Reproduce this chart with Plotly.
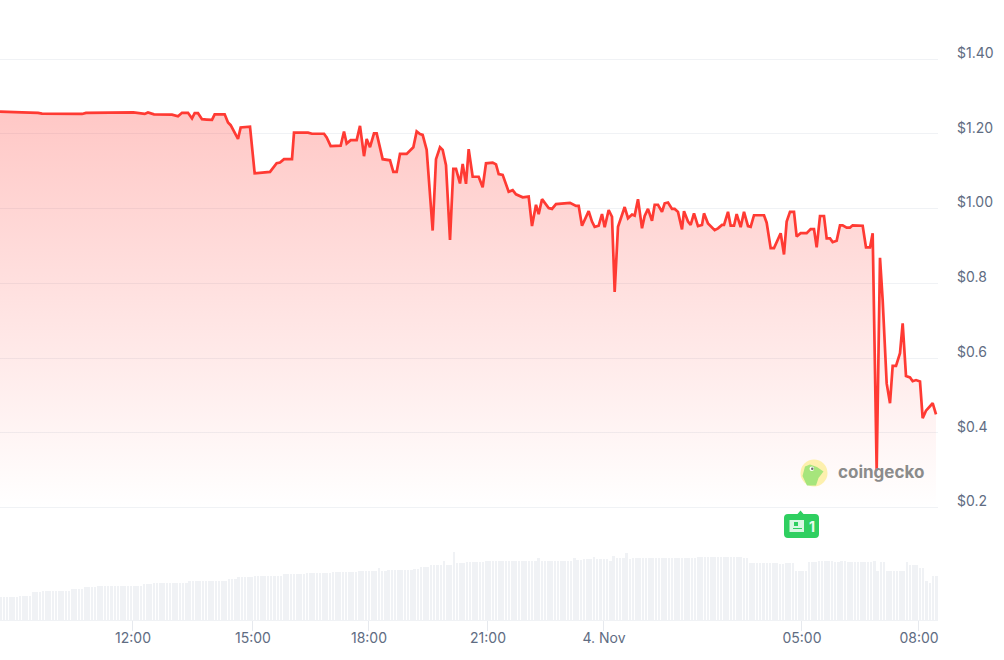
import plotly.graph_objects as go

# Time positions are minutes along the chart's ordinal time axis
price_t = [0,27,33,57,63,123,129,200,207,217,
 222,231,258,267,273,282,288,292,297,303,
 310,318,322,337,342,346,357,361,375,382,
 405,415,420,426,438,441,462,468,486,490,
 496,511,516,520,526,535,540,546,550,555,
 561,565,574,585,590,595,600,610,620,625,
 630,634,640,649,654,660,664,669,675,680,
 684,690,694,699,703,709,718,724,729,739,
 744,748,754,760,763,769,774,784,793,798,
 804,808,813,823,828,834,855,864,868,873,
 879,883,888,892,898,903,907,913,918,922,
 927,933,937,942,948,952,957,963,967,972,
 978,982,987,993,997,1002,1008,1012,1017,1023,
 1026,1032,1036,1041,1047,1053,1056,1062,1068,1072,
 1077,1083,1086,1092,1096,1101,1105,1111,1116,1122,
 1126,1131,1146,1150,1156,1161,1171,1176,1180,1185,
 1191,1195,1201,1210,1216,1221,1225,1230,1236,1240,
 1245,1249,1255,1260,1264,1270,1275,1279,1294,1299,
 1305,1309,1315,1320,1324,1330,1335,1339,1344,1350,
 1354,1359,1365,1369,1374,1380,1384,1389,1399,1404]
price_v = [1.259,1.259,1.257,1.256,1.254,1.253,1.256,1.257,1.255,1.253,
 1.257,1.252,1.251,1.247,1.256,1.256,1.241,1.255,1.255,1.239,
 1.238,1.237,1.252,1.252,1.230,1.223,1.186,1.217,1.219,1.094,
 1.098,1.121,1.123,1.132,1.132,1.203,1.203,1.200,1.200,1.190,
 1.167,1.168,1.206,1.174,1.183,1.183,1.221,1.140,1.186,1.164,
 1.201,1.201,1.132,1.129,1.098,1.098,1.146,1.146,1.164,1.206,
 1.199,1.197,1.157,0.941,1.132,1.164,1.157,1.116,0.916,1.106,
 1.106,1.067,1.119,1.066,1.159,1.085,1.085,1.057,1.121,1.123,
 1.118,1.092,1.090,1.058,1.045,1.049,1.038,1.030,1.032,0.953,
 1.010,0.985,1.025,1.001,0.999,1.012,1.015,1.007,1.007,0.954,
 0.980,0.993,0.965,0.951,0.954,0.985,0.950,0.996,0.978,0.777,
 0.951,0.985,1.004,0.974,0.984,0.981,1.025,0.947,0.980,0.999,
 0.967,1.010,1.010,0.991,1.014,1.016,0.999,0.999,0.991,0.944,
 0.993,0.965,0.956,0.987,0.953,0.956,0.987,0.960,0.949,0.942,
 0.947,0.956,0.956,0.991,0.954,0.954,0.985,0.950,0.991,0.953,
 0.951,0.982,0.982,0.962,0.894,0.894,0.934,0.877,0.965,0.991,
 0.991,0.925,0.934,0.934,0.945,0.945,0.896,0.980,0.980,0.920,
 0.920,0.910,0.914,0.955,0.955,0.949,0.949,0.955,0.954,0.896,
 0.896,0.934,0.300,0.868,0.755,0.532,0.479,0.579,0.579,0.613,
 0.693,0.552,0.548,0.538,0.541,0.537,0.439,0.459,0.479,0.449]

volume = [23,23,23,23,23,23,24,24,24,24,28,28,28,29,29,29,29,29,29,29,29,29,31,31,31,31,33,33,33,33,
 34,34,34,34,34,34,34,34,34,34,34,34,34,34,36,36,36,37,37,37,37,37,37,37,37,37,37,37,39,39,39,39,39,39,39,39,39,39,39,39,
 41,41,41,43,43,43,43,43,44,44,44,44,44,44,44,44,44,46,46,46,46,46,46,46,47,47,47,47,47,47,47,47,48,48,48,48,48,48,48,48,
 49,49,49,49,49,49,52,49,49,50,50,50,50,50,50,50,50,51,51,53,53,53,55,55,55,55,59,55,55,68,57,57,57,58,58,58,58,58,58,
 59,59,59,59,59,59,59,59,59,59,59,59,59,59,59,59,62,59,59,59,59,59,59,59,59,59,59,62,60,60,61,61,61,63,61,61,61,61,59,64,
 62,62,62,67,61,62,62,62,62,62,62,62,62,62,62,62,62,62,62,62,62,62,62,62,62,63,63,63,63,63,63,63,63,63,63,63,63,63,63,62,62,
 57,57,57,57,57,57,57,57,57,56,56,57,57,57,49,49,49,49,58,58,58,59,59,59,59,59,58,58,59,59,58,58,58,58,58,58,58,58,59,49,
 58,58,49,49,49,49,49,49,58,55,55,55,52,52,39,37,44,44,44]

price_ticks = [0.2, 0.4, 0.6, 0.8, 1.0, 1.2, 1.4]
price_labels = ["$0.2", "$0.4", "$0.6", "$0.8", "$1.00", "$1.20", "$1.40"]
time_ticks = [198, 378, 552, 730.5, 904.5, 1201.5, 1377]
time_labels = ["12:00", "15:00", "18:00", "21:00", "4. Nov", "05:00", "08:00"]

TEXT = "#606c82"
GRID = "#f0f2f5"
RED = "#ff3a33"
GREEN = "#2fcf60"
PW, PH = 938.0, 620.0

def px(x): return x / PW
def py(y): return 1 - y / PH
def path(pts):
    return "M " + " L ".join(f"{px(a):.5f},{py(b):.5f}" for a, b in pts) + " Z"

step = 4.89
bar_t = [(i + 0.2) * step for i in range(len(volume))]

fig = go.Figure()
fig.add_trace(go.Bar(x=bar_t, y=volume, width=step * 0.77, marker=dict(color=GRID, line=dict(width=0)),
                     yaxis="y", hoverinfo="skip"))
fig.add_trace(go.Scatter(x=price_t, y=price_v, mode="lines", yaxis="y2",
                         line=dict(color=RED, width=2.7, shape="linear"),
                         fill="tozeroy",
                         fillgradient=dict(type="vertical", start=1.26, stop=0.2,
                                           colorscale=[[0, "rgba(255,58,51,0.28)"], [1, "rgba(255,58,51,0)"]])))

box = dict(xref="paper", yref="paper")
def P(x, y): return f"{px(x):.5f},{py(y):.5f}"
badge = ("M " + P(788, 514) + " L " + P(797.5, 514) + " L " + P(800.5, 510.5) + " L " + P(803.5, 514) + " L " + P(815, 514)
         + " Q " + P(819, 514) + " " + P(819, 518) + " L " + P(819, 534) + " Q " + P(819, 538) + " " + P(815, 538)
         + " L " + P(788, 538) + " Q " + P(784, 538) + " " + P(784, 534) + " L " + P(784, 518) + " Q " + P(784, 514) + " " + P(788, 514) + " Z")
shapes = [
    dict(type="path", path=badge, fillcolor=GREEN, line=dict(width=0), **box),
    dict(type="rect", x0=px(789.5), x1=px(804), y0=py(520), y1=py(532), fillcolor="#d9f7e3", line=dict(width=0), **box),
    dict(type="rect", x0=px(794), x1=px(798), y0=py(522), y1=py(526), fillcolor=GREEN, line=dict(width=0), **box),
    dict(type="rect", x0=px(793), x1=px(802), y0=py(528), y1=py(529), fillcolor=GREEN, line=dict(width=0), **box),
    dict(type="circle", x0=px(800.5), x1=px(827.5), y0=py(459.5), y1=py(486.5), fillcolor="#fdf0ae", line=dict(width=0), **box),
    dict(type="path", path=path([(805, 466.5), (810, 464.5), (817, 467), (823.5, 471.5), (818.5, 478), (816, 485.5),
                                 (807, 485.5), (802.5, 476)]),
         fillcolor="#a6e57c", line=dict(width=0), **box),
    dict(type="circle", x0=px(809.5), x1=px(814), y0=py(466.5), y1=py(471), fillcolor="#ffffff", line=dict(width=0), **box),
    dict(type="circle", x0=px(811), x1=px(813.5), y0=py(467.5), y1=py(470), fillcolor="#6b6b6b", line=dict(width=0), **box),
]
annotations = [
    dict(text="<b>coingecko</b>", x=px(835.5), y=py(471.5), xanchor="left", yanchor="middle", showarrow=False,
         font=dict(family="Inter", size=17, color="#8b8b8b"), **box),
    dict(text="<b>1</b>", x=px(811.5), y=py(526.5), xanchor="center", yanchor="middle", showarrow=False,
         font=dict(family="Inter", size=14, color="#e9fbef"), **box),
]

fig.update_layout(
    width=1004, height=660, showlegend=False, bargap=0,
    margin=dict(l=0, r=66, t=0, b=40, pad=0),
    paper_bgcolor="white", plot_bgcolor="white",
    shapes=shapes, annotations=annotations,
    font=dict(family="Inter", size=14, color=TEXT),
    xaxis=dict(range=[0, 1407], tickmode="array", tickvals=time_ticks, ticktext=time_labels,
               showgrid=False, zeroline=False, showline=True, linecolor=GRID, linewidth=1,
               ticks="outside", ticklen=10, tickcolor="#e6e9ee", tickwidth=1, ticklabelstandoff=-5, ticklabelshift=1,
               tickfont=dict(family="Inter", size=14, color=TEXT)),
    yaxis=dict(range=[0, 620], visible=False, fixedrange=True),
    yaxis2=dict(range=[-0.1010, 1.5579], overlaying="y", side="right", tickmode="array",
                tickvals=price_ticks, ticktext=price_labels, showgrid=True, gridcolor=GRID, gridwidth=1,
                zeroline=False, showline=False, ticks="", ticklabelstandoff=18, ticklabelshift=-6,
                tickfont=dict(family="Inter", size=14, color=TEXT)),
)

fig.write_html("out.html", config=dict(displayModeBar=False),
               post_script="document.body.style.margin='0';document.body.style.overflow='hidden';")
